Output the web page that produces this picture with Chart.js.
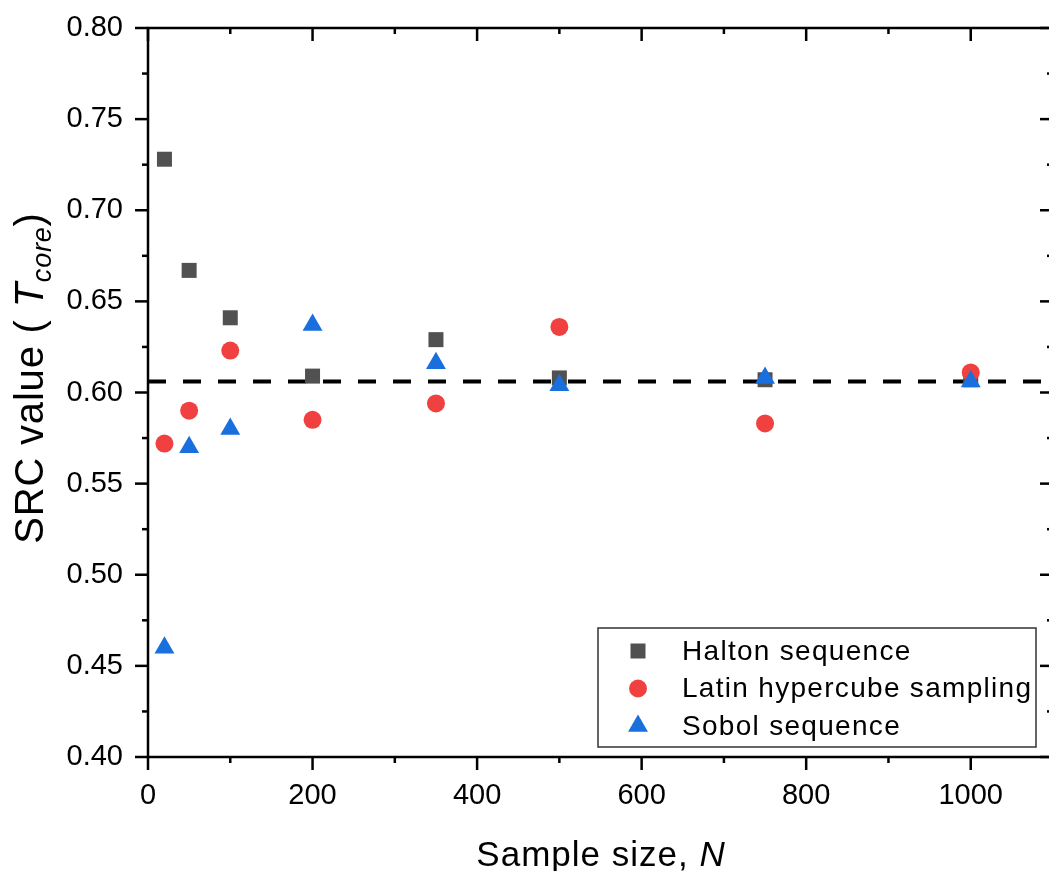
<!DOCTYPE html>
<html>
<head>
<meta charset="utf-8">
<script src="https://cdn.jsdelivr.net/npm/chart.js@4.4.1/dist/chart.umd.min.js"></script>
<style>
html,body{margin:0;padding:0;overflow:hidden;background:#fff;width:1049px;height:871px}
#wrap{position:absolute;left:0;top:0;width:1060px;height:871px}
</style>
</head>
<body>
<div id="wrap"><canvas id="c" width="1060" height="871" style="width:1060px;height:871px"></canvas></div>
<script>
// ---- data ----
const sampleSizes   = [20, 50, 100, 200, 350, 500, 750, 1000];
const haltonValues  = [0.728, 0.667, 0.641, 0.609, 0.629, 0.608, 0.607, 0.607];
const lhsValues     = [0.572, 0.590, 0.623, 0.585, 0.594, 0.636, 0.583, 0.611];
const sobolValues   = [0.460, 0.570, 0.580, 0.637, 0.616, 0.604, 0.608, 0.606];
const referenceValue = 0.606;
const referenceX     = [0, 1100];
const seriesNames   = ['Halton sequence', 'Latin hypercube sampling', 'Sobol sequence'];
const xMajorTicks   = [0, 200, 400, 600, 800, 1000];
const xMinorTicks   = [100, 300, 500, 700, 900, 1100];
const yMajorTicks   = [0.40, 0.45, 0.50, 0.55, 0.60, 0.65, 0.70, 0.75, 0.80];
const yMinorTicks   = [0.425, 0.475, 0.525, 0.575, 0.625, 0.675, 0.725, 0.775];
const xRange = [0, 1100];
const yRange = [0.40, 0.80];
const xTitle = ['Sample size, ', 'N'];
const yTitle = ['SRC value ( ', 'T', 'core', ')'];

const FONT = "'Liberation Sans', Arial, sans-serif";
const colors = ['#515151', '#F14040', '#1A6FDF'];

function pts(vals){ return sampleSizes.map((x,i)=>({x:x, y:vals[i]})); }

const framePlugin = {
  id: 'frame',
  afterDraw(chart){
    const ctx = chart.ctx;
    const {left, right, top, bottom} = chart.chartArea;
    const sx = chart.scales.x, sy = chart.scales.y;
    ctx.save();
    ctx.strokeStyle = '#000';
    ctx.lineWidth = 2.5;
    ctx.lineCap = 'butt';
    ctx.strokeRect(left, top, right-left, bottom-top);
    function seg(x1,y1,x2,y2){ ctx.beginPath(); ctx.moveTo(x1,y1); ctx.lineTo(x2,y2); ctx.stroke(); }
    xMajorTicks.forEach(v=>{ const p=sx.getPixelForValue(v); seg(p,bottom,p,bottom+13); seg(p,top,p,top+13); });
    xMinorTicks.forEach(v=>{ const p=sx.getPixelForValue(v); seg(p,bottom,p,bottom+6); seg(p,top,p,top+6); });
    yMajorTicks.forEach(v=>{ const p=sy.getPixelForValue(v); seg(left-13,p,left,p); seg(right-13,p,right,p); });
    yMinorTicks.forEach(v=>{ const p=sy.getPixelForValue(v); seg(left-6,p,left,p); seg(right-6,p,right,p); });

    // axis titles (mixed style)
    ctx.fillStyle = '#000';
    ctx.textBaseline = 'alphabetic';
    ctx.textAlign = 'left';
    try { ctx.letterSpacing = '1px'; } catch(e){}
    const xParts = [{t:xTitle[0], f:'35px '+FONT}, {t:xTitle[1], f:'italic 35px '+FONT}];
    let w = 0; xParts.forEach(p=>{ ctx.font=p.f; p.w=ctx.measureText(p.t).width; w+=p.w; });
    let cx = 601 - w/2;
    xParts.forEach(p=>{ ctx.font=p.f; ctx.fillText(p.t, cx, 866); cx+=p.w; });
    try { ctx.letterSpacing = '0.8px'; } catch(e){}
    const yParts = [{t:yTitle[0], f:'40px '+FONT, dy:0}, {t:yTitle[1], f:'italic 40px '+FONT, dy:0},
                    {t:yTitle[2], f:'italic 27px '+FONT, dy:8}, {t:yTitle[3], f:'40px '+FONT, dy:0}];
    w = 0; yParts.forEach(p=>{ ctx.font=p.f; p.w=ctx.measureText(p.t).width; w+=p.w; });
    ctx.save();
    ctx.translate(43, 378);
    ctx.rotate(-Math.PI/2);
    cx = -w/2;
    yParts.forEach(p=>{ ctx.font=p.f; ctx.fillText(p.t, cx, p.dy); cx+=p.w; });
    ctx.restore();

    // legend
    try { ctx.letterSpacing = '1.3px'; } catch(e){}
    const bx = right - 455, by = bottom - 129, bw = 438, bh = 119;
    ctx.fillStyle = '#fff';
    ctx.fillRect(bx, by, bw, bh);
    ctx.strokeStyle = '#333';
    ctx.lineWidth = 1.5;
    ctx.strokeRect(bx, by, bw, bh);
    const rows = [by+23, by+60.5, by+98];
    const mx = bx + 40, tx = bx + 84;
    ctx.font = '28px ' + FONT;
    ctx.textBaseline = 'middle';
    seriesNames.forEach((name,i)=>{
      const cy = rows[i];
      ctx.fillStyle = colors[i];
      ctx.beginPath();
      if (i===0) { ctx.rect(mx-7.5, cy-7.5, 15, 15); }
      else if (i===1) { ctx.arc(mx, cy, 9, 0, Math.PI*2); }
      else { const r=11.5; ctx.moveTo(mx, cy-r); ctx.lineTo(mx+0.866*r, cy+0.5*r); ctx.lineTo(mx-0.866*r, cy+0.5*r); ctx.closePath(); }
      ctx.fill();
      ctx.fillStyle = '#000';
      ctx.fillText(name, tx, cy+1);
    });
    ctx.restore();
  }
};

new Chart(document.getElementById('c'), {
  data: {
    datasets: [
      { type:'line', label:'reference', data: referenceX.map(x=>({x:x, y:referenceValue})),
        borderColor:'#000', borderWidth:4, borderDash:[18,17], pointRadius:0, fill:false, order:10 },
      { type:'scatter', label:seriesNames[0], data: pts(haltonValues), pointStyle:'rect', pointRadius:10.6,
        backgroundColor:colors[0], borderColor:colors[0], pointBorderWidth:0, order:3 },
      { type:'scatter', label:seriesNames[1], data: pts(lhsValues), pointStyle:'circle', pointRadius:9,
        backgroundColor:colors[1], borderColor:colors[1], pointBorderWidth:0, order:2 },
      { type:'scatter', label:seriesNames[2], data: pts(sobolValues), pointStyle:'triangle', pointRadius:11.5,
        backgroundColor:colors[2], borderColor:colors[2], pointBorderWidth:0, order:1 }
    ]
  },
  options: {
    responsive:false, animation:false, devicePixelRatio:1,
    layout:{ autoPadding:false, padding:{ top:28, right:7, left:0, bottom:0 } },
    plugins:{ legend:{display:false}, tooltip:{enabled:false} },
    scales:{
      x:{ type:'linear', min:xRange[0], max:xRange[1],
          grid:{display:false, drawTicks:false}, border:{display:false},
          afterBuildTicks:(s)=>{ s.ticks = xMajorTicks.map(v=>({value:v})); },
          afterFit:(s)=>{ s.height = 871-757; s.paddingLeft = 0; s.paddingRight = 0; s.paddingTop = 0; s.paddingBottom = 0; },
          ticks:{ color:'#000', padding:22, font:{family:FONT, size:29}, callback:(v)=>String(v) } },
      y:{ type:'linear', min:yRange[0], max:yRange[1],
          grid:{display:false, drawTicks:false}, border:{display:false},
          afterBuildTicks:(s)=>{ s.ticks = yMajorTicks.map(v=>({value:v})); },
          afterFit:(s)=>{ s.width = 148; s.paddingLeft = 0; s.paddingRight = 0; s.paddingTop = 0; s.paddingBottom = 0; },
          ticks:{ color:'#000', padding:25, font:{family:FONT, size:29}, callback:(v)=>Number(v).toFixed(2) } }
    }
  },
  plugins:[framePlugin]
});
</script>
</body>
</html>
